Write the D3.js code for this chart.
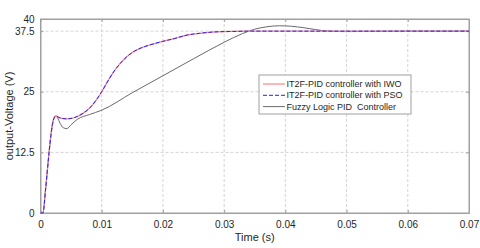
<!DOCTYPE html>
<html>
<head>
<meta charset="utf-8">
<script src="https://cdn.jsdelivr.net/npm/d3@7"></script>
<style>
  body { margin: 0; background: #fff; }
  svg { display: block; font-family: "Liberation Sans", Arial, sans-serif; }
</style>
</head>
<body>
<svg id="chart" width="480" height="248"></svg>
<script>
// time (s) and output voltage (V) for each controller
const timeIT2F = [0, 0.0004, 0.0008, 0.0011, 0.0014, 0.0017, 0.002, 0.0022, 0.0025, 0.003, 0.0035, 0.0043,
  0.005, 0.006, 0.007, 0.008, 0.009, 0.01, 0.011, 0.012, 0.013, 0.014, 0.015, 0.016, 0.018, 0.02,
  0.022, 0.024, 0.026, 0.028, 0.03, 0.032, 0.034, 0.04, 0.05, 0.06, 0.07];
const voltIWO = [0, 0, 4.5, 8.5, 12.5, 16, 18.6, 19.5, 20, 19.7, 19.5, 19.4,
  19.5, 19.9, 20.6, 21.6, 23.1, 25, 27.2, 29.2, 30.8, 32.1, 33.1, 33.8, 34.7, 35.4,
  36.0, 36.7, 37.05, 37.3, 37.4, 37.45, 37.5, 37.5, 37.5, 37.5, 37.5];
const voltPSO = [0, 0, 4.5, 8.5, 12.5, 16, 18.6, 19.5, 20, 19.7, 19.5, 19.4,
  19.5, 19.9, 20.6, 21.6, 23.1, 25, 27.2, 29.2, 30.8, 32.1, 33.1, 33.8, 34.7, 35.4,
  36.0, 36.7, 37.05, 37.3, 37.4, 37.45, 37.5, 37.5, 37.5, 37.5, 37.5];

const timeFuzzy = [0, 0.0004, 0.0008, 0.0011, 0.0014, 0.0017, 0.002, 0.0022, 0.0025, 0.0028, 0.0032, 0.0037,
  0.0043, 0.005, 0.006, 0.008, 0.01, 0.015, 0.02, 0.025, 0.03, 0.033, 0.035, 0.037, 0.039, 0.041,
  0.043, 0.045, 0.047, 0.05, 0.055, 0.06, 0.07];
const voltFuzzy = [0, 0, 4.5, 8.5, 12.5, 16, 18.7, 19.6, 20, 19.6, 18.5, 17.6,
  17.4, 18.2, 19.3, 20.3, 21.2, 24.8, 28.3, 31.8, 35.2, 37.0, 37.9, 38.4, 38.6, 38.5,
  38.2, 37.8, 37.5, 37.4, 37.45, 37.5, 37.5];

const xTicks = [0, 0.01, 0.02, 0.03, 0.04, 0.05, 0.06, 0.07];
const yTicks = [0, 12.5, 25, 37.5, 40];
const seriesNames = ['IT2F-PID controller with IWO', 'IT2F-PID controller with PSO', 'Fuzzy Logic PID  Controller'];

const svg = d3.select('#chart');
const margin = { top: 19, right: 11, bottom: 35, left: 40.5 };
const width = 480 - margin.left - margin.right;
const height = 248 - margin.top - margin.bottom;

const x = d3.scaleLinear().domain([0, 0.07]).range([0, width]);
const y = d3.scaleLinear().domain([0, 40]).range([height, 0]);

const g = svg.append('g').attr('transform', `translate(${margin.left},${margin.top})`);

// dashed grid
g.append('g')
  .selectAll('line')
  .data(xTicks.slice(1, -1))
  .join('line')
  .attr('x1', (d) => x(d)).attr('x2', (d) => x(d))
  .attr('y1', 0).attr('y2', height)
  .attr('stroke', '#d4d4d4').attr('stroke-dasharray', '3,2');
g.append('g')
  .selectAll('line')
  .data([12.5, 25, 37.5])
  .join('line')
  .attr('x1', 0).attr('x2', width)
  .attr('y1', (d) => y(d)).attr('y2', (d) => y(d))
  .attr('stroke', '#d4d4d4').attr('stroke-dasharray', '3,2');

// axes (ticks inward), plus mirrored ticks on top/right
const fmtX = (d) => (d === 0 ? '0' : d3.format('.2f')(d));
g.append('g')
  .attr('transform', `translate(0,${height})`)
  .call(d3.axisBottom(x).tickValues(xTicks).tickFormat(fmtX).tickSizeInner(-3).tickSizeOuter(0).tickPadding(8));
g.append('g')
  .call(d3.axisLeft(y).tickValues(yTicks).tickFormat((d) => String(d)).tickSizeInner(-3).tickSizeOuter(0).tickPadding(6));
g.append('g')
  .call(d3.axisTop(x).tickValues(xTicks).tickFormat('').tickSizeInner(-3).tickSizeOuter(0));
g.append('g')
  .attr('transform', `translate(${width},0)`)
  .call(d3.axisRight(y).tickValues(yTicks).tickFormat('').tickSizeInner(-3).tickSizeOuter(0));

g.selectAll('.domain').attr('stroke', '#a0a0a0');
g.selectAll('.tick line').attr('stroke', '#a0a0a0');
g.selectAll('.tick text').attr('fill', '#262626').style('font-size', '10px')
  .style('font-family', '"Liberation Sans", Arial, sans-serif');

// plot box
g.append('rect')
  .attr('width', width).attr('height', height)
  .attr('fill', 'none').attr('stroke', '#a0a0a0');

// axis labels
svg.append('text')
  .attr('x', margin.left + width / 2).attr('y', 241)
  .attr('text-anchor', 'middle').attr('fill', '#262626')
  .style('font-size', '11px')
  .text('Time (s)');
svg.append('text')
  .attr('transform', `translate(13,${margin.top + height / 2}) rotate(-90)`)
  .attr('text-anchor', 'middle').attr('fill', '#262626')
  .style('font-size', '11px')
  .text('output-Voltage (V)');

// lines
const line = (times) => d3.line()
  .x((d, i) => x(times[i]))
  .y((d) => y(d))
  .curve(d3.curveMonotoneX);

const styles = [
  { color: '#ff8f8f', width: 1.3, dash: null },
  { color: '#1f1fff', width: 1, dash: '4,2' },
  { color: '#6a6a6a', width: 1, dash: null },
];

g.append('path').datum(voltFuzzy)
  .attr('d', line(timeFuzzy))
  .attr('fill', 'none').attr('stroke', styles[2].color).attr('stroke-width', styles[2].width);
g.append('path').datum(voltIWO)
  .attr('d', line(timeIT2F))
  .attr('fill', 'none').attr('stroke', styles[0].color).attr('stroke-width', styles[0].width);
g.append('path').datum(voltPSO)
  .attr('d', line(timeIT2F))
  .attr('fill', 'none').attr('stroke', styles[1].color).attr('stroke-width', styles[1].width)
  .attr('stroke-dasharray', styles[1].dash);

// legend
const legend = svg.append('g').attr('transform', 'translate(259,75)');
legend.append('rect')
  .attr('width', 152).attr('height', 39)
  .attr('fill', '#fff').attr('stroke', '#a0a0a0');
seriesNames.forEach((name, i) => {
  const row = legend.append('g').attr('transform', `translate(0,${9 + i * 11.3})`);
  row.append('line')
    .attr('x1', 4).attr('x2', 26)
    .attr('stroke', styles[i].color).attr('stroke-width', styles[i].width)
    .attr('stroke-dasharray', styles[i].dash);
  row.append('text')
    .attr('x', 27.5).attr('dy', '0.35em')
    .attr('fill', '#262626')
    .style('font-size', '9px')
    .style('white-space', 'pre')
    .text(name);
});
</script>
</body>
</html>
